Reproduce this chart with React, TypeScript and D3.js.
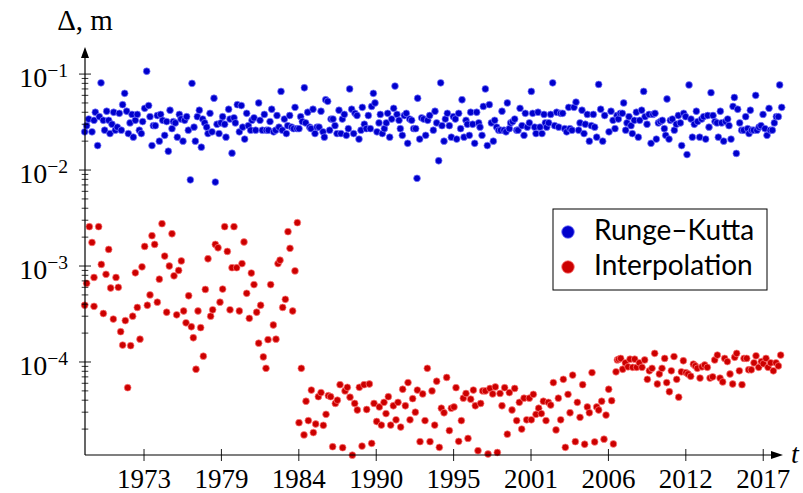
import React from 'react'
import * as d3 from 'd3'

// [MJD, error in m]
const rungeKutta: [number, number][] = [
  [40467,0.025],[40518,0.029],[40570,0.034],[40656,0.025],[40708,0.033],[40742,0.040],[40802,0.018],[40846,0.036],[40889,0.081],[40949,0.033],
  [40983,0.026],[41035,0.041],[41087,0.033],[41121,0.024],[41173,0.030],[41216,0.040],[41259,0.026],[41311,0.028],[41362,0.039],[41414,0.026],
  [41448,0.048],[41500,0.063],[41552,0.041],[41595,0.024],[41638,0.031],[41690,0.038],[41724,0.022],[41776,0.033],[41827,0.038],[41879,0.026],
  [41931,0.024],[41965,0.032],[42017,0.044],[42069,0.107],[42120,0.047],[42155,0.036],[42206,0.018],[42241,0.029],[42293,0.029],[42344,0.037],
  [42396,0.020],[42430,0.038],[42482,0.033],[42534,0.023],[42585,0.032],[42628,0.0157],[42672,0.042],[42723,0.027],[42758,0.032],[42809,0.031],
  [42861,0.022],[42913,0.038],[42956,0.034],[43007,0.020],[43050,0.033],[43102,0.036],[43145,0.026],[43197,0.0079],[43240,0.080],[43292,0.028],
  [43326,0.020],[43378,0.036],[43429,0.042],[43481,0.0173],[43516,0.034],[43567,0.031],[43619,0.028],[43653,0.024],[43705,0.039],[43757,0.025],
  [43808,0.056],[43843,0.0075],[43886,0.030],[43938,0.024],[43989,0.031],[44032,0.036],[44084,0.030],[44118,0.022],[44187,0.043],[44222,0.034],
  [44274,0.0150],[44325,0.035],[44360,0.031],[44411,0.048],[44463,0.025],[44515,0.047],[44549,0.028],[44601,0.021],[44653,0.039],[44696,0.029],
  [44756,0.026],[44790,0.033],[44842,0.035],[44885,0.026],[44963,0.050],[44997,0.033],
  [45057,0.026],[45109,0.038],[45161,0.026],[45213,0.026],[45256,0.032],[45299,0.043],[45350,0.025],[45402,0.026],[45436,0.037],[45488,0.028],
  [45540,0.066],[45574,0.026],[45626,0.034],[45678,0.024],[45712,0.029],[45764,0.037],[45815,0.028],[45867,0.027],[45902,0.045],[45953,0.027],
  [46005,0.027],[46048,0.036],[46091,0.032],[46143,0.072],[46177,0.031],[46229,0.040],[46281,0.028],[46315,0.027],[46367,0.043],[46418,0.024],
  [46470,0.028],[46522,0.028],[46573,0.041],[46625,0.025],[46660,0.022],[46694,0.054],[46746,0.052],[46797,0.026],[46832,0.034],[46883,0.034],
  [46935,0.029],[46987,0.024],[47038,0.042],[47090,0.024],[47125,0.034],[47176,0.038],[47228,0.023],[47280,0.027],[47314,0.070],[47366,0.043],
  [47417,0.024],[47452,0.039],[47504,0.037],[47555,0.021],[47607,0.026],[47641,0.045],[47693,0.030],[47745,0.027],[47796,0.037],[47848,0.027],
  [47883,0.046],[47926,0.063],[47969,0.050],[48020,0.025],[48072,0.031],[48106,0.038],[48158,0.024],[48210,0.027],[48261,0.031],[48296,0.039],
  [48348,0.022],[48399,0.034],[48451,0.044],[48485,0.075],[48537,0.038],[48589,0.033],[48623,0.027],[48675,0.023],[48727,0.037],[48778,0.039],
  [48813,0.019],[48865,0.034],[48916,0.033],[48968,0.027],[49020,0.027],[49054,0.0082],[49071,0.056],[49123,0.021],[49175,0.035],[49226,0.034],
  [49278,0.023],[49330,0.033],[49381,0.037],
  [49476,0.026],[49519,0.041],[49562,0.031],[49614,0.0125],[49666,0.081],[49700,0.029],[49752,0.020],[49786,0.034],[49838,0.039],[49890,0.029],
  [49941,0.022],[49993,0.036],[50045,0.034],[50079,0.021],[50131,0.039],[50182,0.027],[50217,0.054],[50269,0.022],[50320,0.033],[50355,0.030],
  [50406,0.023],[50441,0.040],[50492,0.030],[50544,0.019],[50596,0.040],[50648,0.031],[50682,0.028],[50734,0.023],[50768,0.046],[50820,0.070],
  [50871,0.018],[50923,0.048],[50975,0.031],[51026,0.020],[51061,0.033],[51113,0.028],[51164,0.026],[51216,0.026],[51250,0.041],[51302,0.026],
  [51354,0.025],[51388,0.050],[51440,0.027],[51474,0.031],[51526,0.032],[51578,0.034],[51629,0.026],[51664,0.026],[51716,0.044],[51767,0.029],
  [51819,0.023],[51853,0.039],[51905,0.028],[51957,0.031],[52008,0.066],[52043,0.039],[52094,0.028],[52129,0.024],[52181,0.040],[52232,0.028],
  [52284,0.024],[52336,0.038],[52370,0.031],[52405,0.028],[52456,0.031],[52508,0.038],[52560,0.081],[52611,0.029],[52663,0.040],[52715,0.028],
  [52766,0.039],[52818,0.039],[52870,0.027],[52921,0.025],[52973,0.045],[53007,0.027],[53059,0.026],[53111,0.045],[53162,0.051],[53231,0.026],
  [53266,0.031],[53317,0.042],[53369,0.024],[53403,0.030],[53455,0.038],[53507,0.020],[53559,0.029],[53610,0.038],[53645,0.028],[53697,0.022],
  [53748,0.078],[53800,0.043],[53852,0.020],[53903,0.037],
  [54015,0.025],[54067,0.041],[54119,0.033],[54170,0.027],[54222,0.037],[54257,0.034],[54308,0.039],[54360,0.039],[54394,0.050],[54446,0.026],
  [54480,0.031],[54532,0.036],[54584,0.029],[54618,0.024],[54670,0.033],[54722,0.040],[54773,0.022],[54808,0.033],[54859,0.042],[54911,0.066],
  [54946,0.036],[54997,0.030],[55049,0.038],[55101,0.019],[55152,0.038],[55204,0.039],[55238,0.021],[55290,0.031],[55342,0.032],[55393,0.033],
  [55445,0.027],[55480,0.023],[55514,0.055],[55566,0.021],[55600,0.033],[55652,0.034],[55703,0.026],[55755,0.030],[55807,0.037],[55859,0.031],
  [55893,0.018],[55945,0.039],[55996,0.036],[56031,0.0145],[56083,0.077],[56134,0.034],[56169,0.022],[56220,0.030],[56272,0.041],[56306,0.032],
  [56358,0.022],[56410,0.034],[56461,0.036],[56513,0.021],[56565,0.037],[56599,0.028],[56651,0.064],[56703,0.037],[56754,0.032],[56806,0.031],
  [56840,0.022],[56892,0.041],[56926,0.031],[56978,0.020],[57030,0.032],[57082,0.034],[57116,0.029],[57168,0.021],[57219,0.046],[57254,0.057],
  [57305,0.0149],[57340,0.043],[57392,0.031],[57443,0.026],[57495,0.026],[57547,0.036],[57598,0.027],[57633,0.024],[57667,0.042],[57702,0.026],
  [57753,0.026],[57805,0.060],[57839,0.026],[57891,0.028],[57943,0.029],[57995,0.038],[58046,0.027],[58098,0.023],[58150,0.044],[58184,0.026],
  [58236,0.026],[58287,0.031],[58339,0.036],[58391,0.036],[58425,0.077],[58477,0.045],
]

const interpolation: [number, number][] = [
  [40467,3.9e-4],[40518,6.6e-4],[40587,2.57e-3],[40656,1.76e-3],[40708,7.6e-4],[40708,3.8e-4],[40828,2.57e-3],[40897,1.04e-3],[40949,3.2e-4],[41018,8.2e-4],
  [41087,1.49e-3],[41138,5.9e-4],[41207,2.8e-4],[41276,7.6e-4],[41336,6.0e-4],[41397,2.07e-4],[41448,1.5e-4],[41517,2.7e-4],[41578,5.4e-5],[41655,1.48e-4],
  [41707,3.0e-4],[41776,8.5e-4],[41827,3.7e-4],[41896,1.73e-4],[41948,9.8e-4],[42017,1.6e-3],[42086,3.9e-4],[42155,5.0e-4],[42206,2.07e-3],[42275,1.68e-3],
  [42344,4.2e-4],[42396,7.3e-4],[42465,2.76e-3],[42534,1.27e-3],[42585,3.3e-4],[42654,1.0e-3],[42723,2.17e-3],[42775,7.9e-4],[42844,3.1e-4],[42895,9.0e-4],
  [42964,1.13e-3],[43024,3.4e-4],[43085,2.56e-4],[43154,4.9e-4],[43223,2.33e-4],[43274,1.79e-4],[43343,8.4e-5],[43395,3.4e-4],[43464,2.28e-4],[43533,1.15e-4],
  [43584,5.7e-4],[43653,1.19e-3],[43722,3.0e-4],[43774,3.5e-4],[43843,1.68e-3],[43912,1.55e-3],[43963,4.2e-4],[44032,5.75e-4],[44084,2.57e-3],[44153,1.42e-3],
  [44222,3.5e-4],[44274,9.6e-4],[44325,2.57e-3],[44394,9.6e-4],[44463,3.4e-4],[44532,1.06e-3],[44584,1.78e-3],[44653,5.2e-4],[44721,2.85e-4],[44773,8.45e-4],
  [44842,6.4e-4],[44911,3.3e-4],[44963,1.57e-4],[45014,3.9e-4],[45083,1.13e-4],[45152,8.6e-5],[45204,1.71e-4],[45273,6.4e-4],[45341,2.43e-4],[45410,1.73e-4],
  [45462,1.06e-3],[45514,1.15e-3],[45583,3.7e-4],[45652,4.5e-4],[45720,2.28e-3],[45772,1.53e-3],[45841,3.4e-4],[45901,8.9e-4],[45962,2.83e-3],[46065,8.6e-5],
  [46005,2.33e-5],
  [46134,1.74e-5],[46186,3.9e-5],[46246,2.45e-5],[46324,5.1e-5],[46376,1.84e-5],[46436,2.26e-5],[46505,4.35e-5],[46574,4.8e-5],[46634,2.19e-5],[46703,2.85e-5],
  [46763,4.46e-5],[46823,4.35e-5],[46875,1.31e-5],[46944,3.7e-5],[46996,4.0e-5],[47065,5.8e-5],[47133,1.28e-5],[47194,5.0e-5],[47254,5.45e-5],[47323,4.3e-5],
  [47383,1.07e-5],[47444,3.7e-5],[47512,3.16e-5],[47564,5.45e-5],[47633,1.33e-5],[47685,5.8e-5],[47754,3.2e-5],[47823,5.9e-5],[47883,1.42e-5],[47943,3.7e-5],
  [48012,2.4e-5],[48081,3.4e-5],[48133,2.2e-5],[48201,3.8e-5],[48253,2.9e-5],[48313,4.35e-5],[48374,2.2e-5],[48443,3.5e-5],[48512,2.5e-5],[48563,3.8e-5],
  [48632,2.1e-5],[48684,5.2e-5],[48753,3.5e-5],[48822,6.1e-5],[48873,2.5e-5],[48942,4.15e-5],[49011,3.0e-5],[49063,5.1e-5],[49132,1.48e-5],[49201,4.65e-5],
  [49261,2.45e-5],[49321,8.6e-5],[49390,1.48e-5],[49442,5.0e-5],[49511,2.2e-5],[49562,6.3e-5],[49631,1.29e-5],[49683,3.3e-5],[49752,2.96e-5],[49821,6.9e-5],
  [49890,1.93e-5],[49941,3.3e-5],[50010,3.4e-5],[50062,5.4e-5],[50131,1.49e-5],[50200,2.45e-5],[50251,4.2e-5],[50320,4.7e-5],[50372,1.6e-5],[50441,4.1e-5],
  [50510,5.1e-5],[50561,3.5e-5],[50630,1.19e-5],[50699,3.7e-5],[50751,5.0e-5],[50820,5.0e-5],[50889,1.1e-5],[50940,5.3e-5],[51009,4.65e-5],[51078,5.5e-5],
  [51130,1.14e-5],[51199,4.7e-5],[51250,3.5e-5],[51319,5.4e-5],[51388,1.77e-5],[51440,4.8e-5],[51509,3.16e-5],[51578,5.3e-5],[51629,2.45e-5],[51698,3.8e-5],
  [51759,2.0e-5],[51819,4.2e-5],[51888,2.5e-5],[51957,4.2e-5],[52008,2.5e-5],[52060,4.6e-5],[52129,2.85e-5],[52198,3.3e-5],[52267,2.9e-5],[52319,3.9e-5],
  [52387,2.45e-5],[52448,3.8e-5],[52508,3.56e-5],[52577,6.1e-5],[52646,1.96e-5],[52706,4.2e-5],[52767,2.5e-5],[52835,6.6e-5],[52887,1.29e-5],[52956,4.6e-5],
  [53008,2.96e-5],[53076,7.3e-5],[53145,1.48e-5],[53197,3.8e-5],[53266,2.65e-5],[53335,5.8e-5],[53386,1.39e-5],[53455,3.4e-5],[53507,2.96e-5],[53576,7.75e-5],
  [53645,1.47e-5],[53697,3.4e-5],[53748,3.16e-5],
  [53826,3.9e-5],[53886,1.57e-5],[53938,2.8e-5],[54007,5.2e-5],[54084,3.95e-5],[54128,1.4e-5],[54196,7.9e-5],[54231,1.05e-4],[54265,1.07e-4],[54317,1.09e-4],
  [54369,8.4e-5],[54438,9.8e-5],[54506,8.9e-5],[54558,1.07e-4],[54627,8.8e-5],[54679,1.07e-4],[54730,8.8e-5],[54799,9.8e-5],[54868,8.8e-5],[54937,1.05e-4],
  [55006,6.6e-5],[55058,8.1e-5],[55127,8.6e-5],[55196,1.23e-4],[55264,5.9e-5],[55316,7.5e-5],[55385,8.6e-5],[55454,1.09e-4],[55506,6.1e-5],[55575,4.9e-5],
  [55626,8.1e-5],[55695,1.14e-4],[55764,6.6e-5],[55816,4.3e-5],[55885,7.9e-5],[55936,1.03e-4],[56005,7.75e-5],[56057,7.5e-5],[56126,7.1e-5],[56195,9.5e-5],
  [56246,9.1e-5],[56298,8.6e-5],[56367,6.8e-5],[56419,8.9e-5],[56487,9.3e-5],[56556,8.8e-5],[56625,6.8e-5],[56694,7.0e-5],[56746,1.05e-4],[56815,1.18e-4],
  [56884,6.8e-5],[56953,6.2e-5],[57004,1.09e-4],[57073,1.01e-4],[57142,7.5e-5],[57211,5.9e-5],[57263,1.12e-4],[57314,1.23e-4],[57383,8.1e-5],[57452,5.8e-5],
  [57504,1.09e-4],[57573,1.09e-4],[57624,8.3e-5],[57693,8.3e-5],[57762,9.8e-5],[57814,1.16e-4],[57883,8.8e-5],[57952,1.01e-4],[58003,9.6e-5],[58072,1.09e-4],
  [58124,8.8e-5],[58193,9.8e-5],[58262,8.1e-5],[58331,9.8e-5],[58391,9.1e-5],[58451,1.18e-4],
]

const xTickDays = [42000, 44000, 46000, 48000, 50000, 52000, 54000, 56000, 58000]
const xTickLabels = ['1973', '1979', '1984', '1990', '1995', '2001', '2006', '2012', '2017']
const yTickExps = [-1, -2, -3, -4]
const seriesNames = ['Runge–Kutta', 'Interpolation']
const seriesColors = ['#0000cc', '#cc0000']
const seriesEdges = ['#7f7fff', '#ff7f7f']

const W = 803
const H = 493
const X0 = 85
const YB = 455

const x = d3.scaleLinear().domain([40475, 58480]).range([X0, 781.8])
const y = d3.scaleLog().domain([1.074e-5, 0.158]).range([YB, 55])

const serif = '"Liberation Serif", "Times New Roman", serif'
const sans = 'Lato, "Open Sans", sans-serif'

export default function App() {
  const [ylo, yhi] = y.domain()
  const minor: number[] = []
  for (let e = -5; e <= -1; e++) {
    for (let m = 2; m <= 9; m++) {
      const v = m * Math.pow(10, e)
      if (v >= ylo && v <= yhi) minor.push(v)
    }
  }
  const series = [rungeKutta, interpolation]

  return (
    <svg width={W} height={H} style={{ position: 'absolute', left: 0, top: 0, background: '#fff' }}>
      {series.map((data, si) => (
        <g key={si}>
          {data.map((d, i) => (
            <circle key={i} cx={x(d[0])} cy={y(d[1])} r={3.4}
              fill={seriesColors[si]} stroke={seriesEdges[si]} strokeWidth={0.7} />
          ))}
        </g>
      ))}

      {/* y axis */}
      <line x1={X0} x2={X0} y1={YB} y2={56} stroke="#000" strokeWidth={1.2} />
      <polygon points={`${X0},47 ${X0 - 4},58 ${X0 + 4},58`} fill="#000" />
      {minor.map((v, i) => (
        <line key={i} x1={X0 - 3.3} x2={X0 + 3.3} y1={y(v)} y2={y(v)} stroke="#000" strokeWidth={0.8} />
      ))}
      {yTickExps.map(e => {
        const yy = y(Math.pow(10, e))
        return (
          <g key={e}>
            <line x1={X0 - 6} x2={X0 + 6} y1={yy} y2={yy} stroke="#000" strokeWidth={0.9} />
            <text x={68} y={yy + 13} textAnchor="end" fontFamily={serif} fontSize={28}>
              <tspan>10</tspan>
              <tspan dy={-10} fontSize={19.6}>{'\u2212' + Math.abs(e)}</tspan>
            </text>
          </g>
        )
      })}

      {/* x axis */}
      <line x1={X0} x2={772} y1={YB} y2={YB} stroke="#000" strokeWidth={1.2} />
      <polygon points={`783,${YB} 771,${YB - 4} 771,${YB + 4}`} fill="#000" />
      {xTickDays.map((d, i) => (
        <g key={d}>
          <line x1={x(d)} x2={x(d)} y1={YB - 6} y2={YB + 6} stroke="#000" strokeWidth={0.9} />
          <text x={x(d)} y={488} textAnchor="middle" fontFamily={serif} fontSize={27}>{xTickLabels[i]}</text>
        </g>
      ))}

      <text x={85} y={30} textAnchor="middle" fontFamily={serif} fontSize={29}>Δ, m</text>
      <text x={791} y={463} fontFamily={serif} fontStyle="italic" fontSize={28}>t</text>

      {/* legend */}
      <rect x={553} y={209} width={214} height={81} fill="#fff" stroke="#000" strokeWidth={1} />
      {seriesNames.map((n, i) => (
        <g key={n}>
          <circle cx={568} cy={232 + i * 35} r={6.3} fill={seriesColors[i]} stroke={seriesEdges[i]} strokeWidth={0.8} />
          <text x={594} y={240 + i * 35} fontFamily={sans} fontSize={28}>{n}</text>
        </g>
      ))}
    </svg>
  )
}
